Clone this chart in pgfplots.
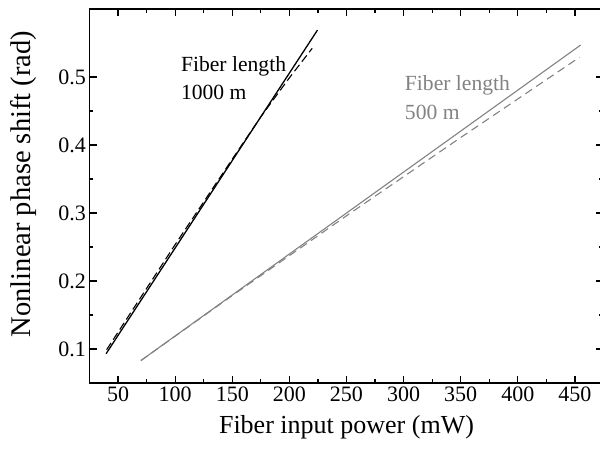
\documentclass[border=0pt]{standalone}
\usepackage{pgfplots}
\pgfplotsset{compat=1.18}
\usepackage{fontspec}
\setmainfont{Liberation Serif}
\definecolor{lgray}{RGB}{130,130,130}
\begin{document}
\begin{tikzpicture}
\begin{axis}[
  scale only axis,
  width=514pt, height=374pt,
  xmin=25, xmax=475, ymin=0.05, ymax=0.6,
  xtick={50,100,...,450},
  ytick={0.1,0.2,0.3,0.4,0.5},
  yticklabels={0.1,0.2,0.3,0.4,0.5},
  minor x tick num=1, minor y tick num=1,
  tick align=inside,
  major tick length=7pt, minor tick length=4pt,
  every tick/.style={line width=1.2pt,black},
  axis line style={line width=1.4pt},
  /pgf/number format/assume math mode=true,
  tick label style={font=\fontsize{22}{26}\selectfont},
  xlabel={Fiber input power (mW)},
  ylabel={Nonlinear phase shift (rad)},
  xlabel style={font=\fontsize{26}{30}\selectfont, yshift=-7pt},
  ylabel style={font=\fontsize{28.5}{32}\selectfont, yshift=15pt, xshift=12pt},
  clip=false,
]
% 1000 m, solid
\addplot[black, line width=1.3pt] coordinates {(39.5,0.093) (224.6,0.569)};
% 1000 m, dashed
\addplot[black, line width=1.1pt, dash pattern=on 8pt off 4pt] coordinates {
(40,0.099) (100,0.2536) (150,0.3792) (175,0.4415) (200,0.4988) (220,0.5422)};
% 500 m, solid
\addplot[lgray, line width=1.1pt] coordinates {(70,0.083) (455,0.547)};
% 500 m, dashed
\addplot[lgray, line width=1.1pt, dash pattern=on 8pt off 5pt] coordinates {
(70,0.083) (150,0.1786) (250,0.2959) (350,0.4110) (454,0.529)};
\node[anchor=west, align=left, inner sep=0pt, font=\fontsize{21.6}{28.5}\selectfont] at (axis cs:105,0.498) {Fiber length\\1000 m};
\node[anchor=west, align=left, inner sep=0pt, text=lgray, font=\fontsize{21.6}{28.5}\selectfont] at (axis cs:301,0.470) {Fiber length\\500 m};
\end{axis}
\pgfresetboundingbox
\path[use as bounding box] (-89.5pt,-69pt) rectangle (510.5pt,383pt);
\end{tikzpicture}
\end{document}
